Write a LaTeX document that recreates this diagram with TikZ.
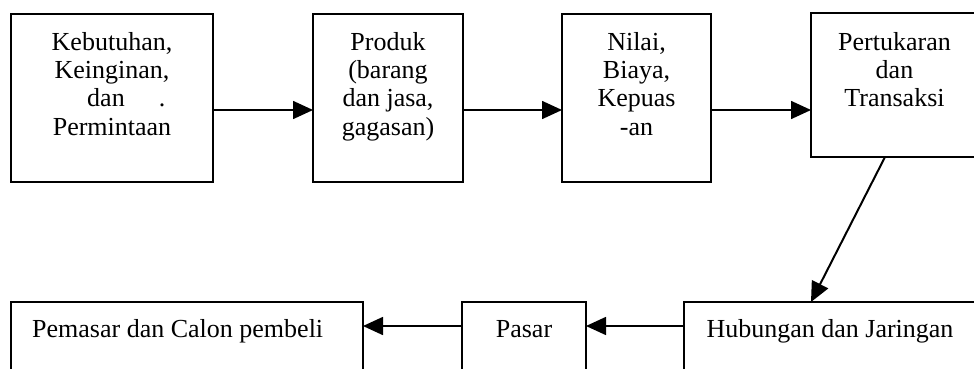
\documentclass[tikz,border=0pt]{standalone}
\usepackage{fontspec}
\setmainfont{Liberation Serif}
\usetikzlibrary{arrows.meta}
\begin{document}
\begin{tikzpicture}[x=1pt,y=-1pt,
  box/.style={draw, line width=1.5pt, rectangle, inner sep=0pt, outer sep=0pt},
  lbl/.style={inner sep=0pt, align=center, font=\fontsize{26}{28.3}\selectfont},
  arr/.style={line width=1.6pt, -{Triangle[length=20pt,width=18pt]}}]
\useasboundingbox (0,0) rectangle (974,369);
\clip (0,0) rectangle (974,369);
% top row boxes
\node[box, minimum width=202pt, minimum height=168pt] (b1) at (112,98) {};
\node[box, minimum width=150pt, minimum height=168pt] (b2) at (388,98) {};
\node[box, minimum width=149pt, minimum height=168pt] (b3) at (636.5,98) {};
\node[box, minimum width=167pt, minimum height=144pt] (b4) at (894.5,85) {};
% bottom row boxes
\node[box, minimum width=352pt, minimum height=70pt] (b5) at (187,337) {};
\node[box, minimum width=124pt, minimum height=70pt] (b6) at (524,337) {};
\node[box, minimum width=292pt, minimum height=70pt] (b7) at (830,337) {};
% texts
\node[lbl, anchor=north] (t1) at (112,32) {Kebutuhan,\\Keinginan,\\\hspace*{-12pt}dan\rlap{\hspace{34pt}.}\\Permintaan};
\node[lbl, anchor=north] (t2) at (388,32) {Produk\\(barang\\dan jasa,\\gagasan)};
\node[lbl, anchor=north] (t3) at (636.5,32) {Nilai,\\Biaya,\\Kepuas\\-an};
\node[lbl, anchor=north] (t4) at (894.5,32) {Pertukaran\\dan\\Transaksi};
\node[lbl, anchor=base west] (t5) at (32,337) {Pemasar dan Calon pembeli};
\node[lbl, anchor=base] (t6) at (524,337) {Pasar};
\node[lbl, anchor=base] (t7) at (830,337) {Hubungan dan Jaringan};
% connectors
\draw[arr] ([yshift=-12pt]b1.east) -- ([yshift=-12pt]b2.west);
\draw[arr] ([yshift=-12pt]b2.east) -- ([yshift=-12pt]b3.west);
\draw[arr] ([yshift=-12pt]b3.east) -- ([yshift=-25pt]b4.west);
\draw[arr, line width=2pt] ([xshift=-9.5pt]b4.south) -- ([xshift=-19pt]b7.north);
\draw[arr] ([yshift=11pt]b7.west) -- ([yshift=11pt]b6.east);
\draw[arr] ([yshift=11pt]b6.west) -- ([yshift=11pt]b5.east);
\end{tikzpicture}
\end{document}
